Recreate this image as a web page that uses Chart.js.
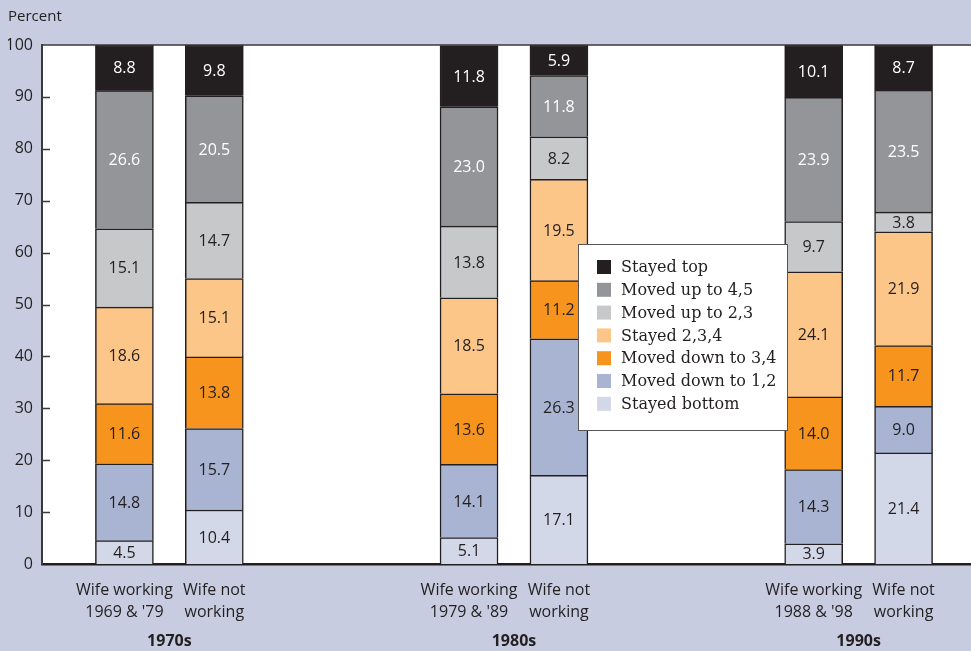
<!DOCTYPE html>
<html>
<head>
<meta charset="utf-8">
<script src="https://cdn.jsdelivr.net/npm/chart.js@4.4.1/dist/chart.umd.min.js"></script>
<style>
  html, body { margin: 0; padding: 0; background: #c8cce1; }
  #wrap { width: 971px; height: 651px; position: relative; }
</style>
</head>
<body>
<div id="wrap"><canvas id="chart"></canvas></div>
<script>
// ---- data ----
const barLabels = [
  ["Wife working", "1969 & '79"], ["Wife not", "working"],
  ["Wife working", "1979 & '89"], ["Wife not", "working"],
  ["Wife working", "1988 & '98"], ["Wife not", "working"]
];
const decades = ["1970s", "1980s", "1990s"];
const yTickValues = [0, 10, 20, 30, 40, 50, 60, 70, 80, 90, 100];

// series, stacked from the bottom up
const stayedBottom  = [4.5, 10.4, 5.1, 17.1, 3.9, 21.4];
const movedDown12   = [14.8, 15.7, 14.1, 26.3, 14.3, 9.0];
const movedDown34   = [11.6, 13.8, 13.6, 11.2, 14.0, 11.7];
const stayed234     = [18.6, 15.1, 18.5, 19.5, 24.1, 21.9];
const movedUp23     = [15.1, 14.7, 13.8, 8.2, 9.7, 3.8];
const movedUp45     = [26.6, 20.5, 23.0, 11.8, 23.9, 23.5];
const stayedTop     = [8.8, 9.8, 11.8, 5.9, 10.1, 8.7];

const seriesNames = ["Stayed bottom", "Moved down to 1,2", "Moved down to 3,4",
  "Stayed 2,3,4", "Moved up to 2,3", "Moved up to 4,5", "Stayed top"];
const seriesValues = [stayedBottom, movedDown12, movedDown34, stayed234, movedUp23, movedUp45, stayedTop];

// ---- layout & style ----
const SLOT_COUNT = 62;                       // fine category grid used for spacing
const BAR_SLOTS = [5, 11, 28, 34, 51, 57];   // where each bar sits
const DECADE_SLOTS = [8, 31, 54];            // where each decade caption sits
const seriesColors = ["#d3d8e8", "#a9b4d3", "#f7941e", "#fdc689", "#c7c8ca", "#939598", "#231f20"];
const labelColors  = ["#231f20", "#231f20", "#231f20", "#231f20", "#231f20", "#ffffff", "#ffffff"];
const SANS = "'Open Sans', 'DejaVu Sans', sans-serif";
const SERIF = "'DejaVu Serif', serif";
const INK = "#231f20";

const slotLabels = Array.from({ length: SLOT_COUNT }, () => "");
BAR_SLOTS.forEach((s, i) => { slotLabels[s] = barLabels[i]; });
DECADE_SLOTS.forEach((s, i) => { slotLabels[s] = ["", "", decades[i]]; });

const datasets = seriesNames.map((name, k) => {
  const data = Array(SLOT_COUNT).fill(null);
  BAR_SLOTS.forEach((s, i) => { data[s] = seriesValues[k][i]; });
  return {
    label: name,
    data,
    backgroundColor: seriesColors[k],
    borderColor: INK,
    borderWidth: 1.5,
    barThickness: 58
  };
});

// white plotting panel with a top rule and short inward y ticks
const panelPlugin = {
  id: "panel",
  beforeDraw(chart) {
    const { ctx, chartArea: a } = chart;
    ctx.save();
    ctx.fillStyle = "#ffffff";
    ctx.fillRect(a.left, a.top, a.right - a.left, a.bottom - a.top);
    ctx.restore();
  },
  afterDraw(chart) {
    const { ctx, chartArea: a } = chart;
    const y = chart.scales.y;
    ctx.save();
    ctx.strokeStyle = "#3a3a3a";
    ctx.lineWidth = 1.5;
    ctx.beginPath();
    ctx.moveTo(a.left, a.top);
    ctx.lineTo(a.right, a.top);
    y.ticks.forEach(t => {
      if (t.value > 0 && t.value < 100) {
        const py = Math.round(y.getPixelForValue(t.value)) + 0.5;
        ctx.moveTo(a.left, py);
        ctx.lineTo(a.left + 8, py);
      }
    });
    ctx.stroke();
    ctx.restore();
  }
};

// value printed in the middle of each segment
const valueLabelPlugin = {
  id: "valueLabels",
  afterDatasetsDraw(chart) {
    const { ctx } = chart;
    ctx.save();
    ctx.font = "16px " + SANS;
    ctx.textAlign = "center";
    ctx.textBaseline = "middle";
    chart.data.datasets.forEach((ds, k) => {
      const meta = chart.getDatasetMeta(k);
      meta.data.forEach((el, i) => {
        const v = ds.data[i];
        if (v === null || v === undefined) return;
        ctx.fillStyle = labelColors[k];
        ctx.fillText(v.toFixed(1), el.x, (el.y + el.base) / 2 + 1);
      });
    });
    ctx.restore();
  }
};

// boxed key, top entry first
const keyPlugin = {
  id: "key",
  afterDraw(chart) {
    const { ctx } = chart;
    const box = { x: 578, y: 244, w: 209, h: 186 };
    ctx.save();
    ctx.fillStyle = "#ffffff";
    ctx.fillRect(box.x, box.y, box.w, box.h);
    ctx.strokeStyle = "#555555";
    ctx.lineWidth = 1;
    ctx.strokeRect(box.x + 0.5, box.y + 0.5, box.w, box.h);
    ctx.font = "16px " + SERIF;
    ctx.textBaseline = "middle";
    ctx.textAlign = "left";
    const items = chart.data.datasets.map(d => ({ text: d.label, color: d.backgroundColor })).reverse();
    items.forEach((it, r) => {
      const cy = box.y + 23 + r * 22.8;
      ctx.fillStyle = it.color;
      ctx.fillRect(box.x + 19, cy - 7, 14, 14);
      ctx.fillStyle = INK;
      ctx.fillText(it.text, box.x + 43, cy + 1);
    });
    ctx.restore();
  }
};

new Chart(document.getElementById("chart"), {
  type: "bar",
  data: { labels: slotLabels, datasets },
  plugins: [panelPlugin, valueLabelPlugin, keyPlugin],
  options: {
    responsive: true,
    maintainAspectRatio: false,
    animation: false,
    layout: { padding: { left: 8, right: 0, top: 0, bottom: 0 } },
    plugins: {
      legend: { display: false },
      tooltip: { enabled: false },
      title: {
        display: true,
        text: "Percent",
        align: "start",
        color: INK,
        font: { family: SANS, size: 15, weight: "normal", lineHeight: 1.2 },
        padding: { top: 8, bottom: 19 }
      }
    },
    scales: {
      x: {
        stacked: true,
        grid: { display: false, drawTicks: false },
        border: { display: true, color: INK, width: 2.5 },
        afterFit(scale) {
          scale.height = 87;
          scale.paddingLeft = 0;
          scale.paddingRight = 0;
        },
        ticks: {
          autoSkip: false,
          maxRotation: 0,
          minRotation: 0,
          padding: 15,
          color: INK,
          font: ctx => DECADE_SLOTS.includes(ctx.index)
            ? { family: SANS, size: 16, weight: "bold", lineHeight: 1.55 }
            : { family: SANS, size: 16, weight: "normal", lineHeight: 1.375 }
        }
      },
      y: {
        stacked: true,
        min: 0,
        max: 100,
        grid: { display: false, drawTicks: false },
        border: { display: true, color: "#3a3a3a", width: 2 },
        afterFit(scale) { scale.width = 34; },
        afterBuildTicks(scale) { scale.ticks = yTickValues.map(v => ({ value: v })); },
        ticks: {
          padding: 9,
          color: INK,
          font: { family: SANS, size: 16 }
        }
      }
    }
  }
});
</script>
</body>
</html>
